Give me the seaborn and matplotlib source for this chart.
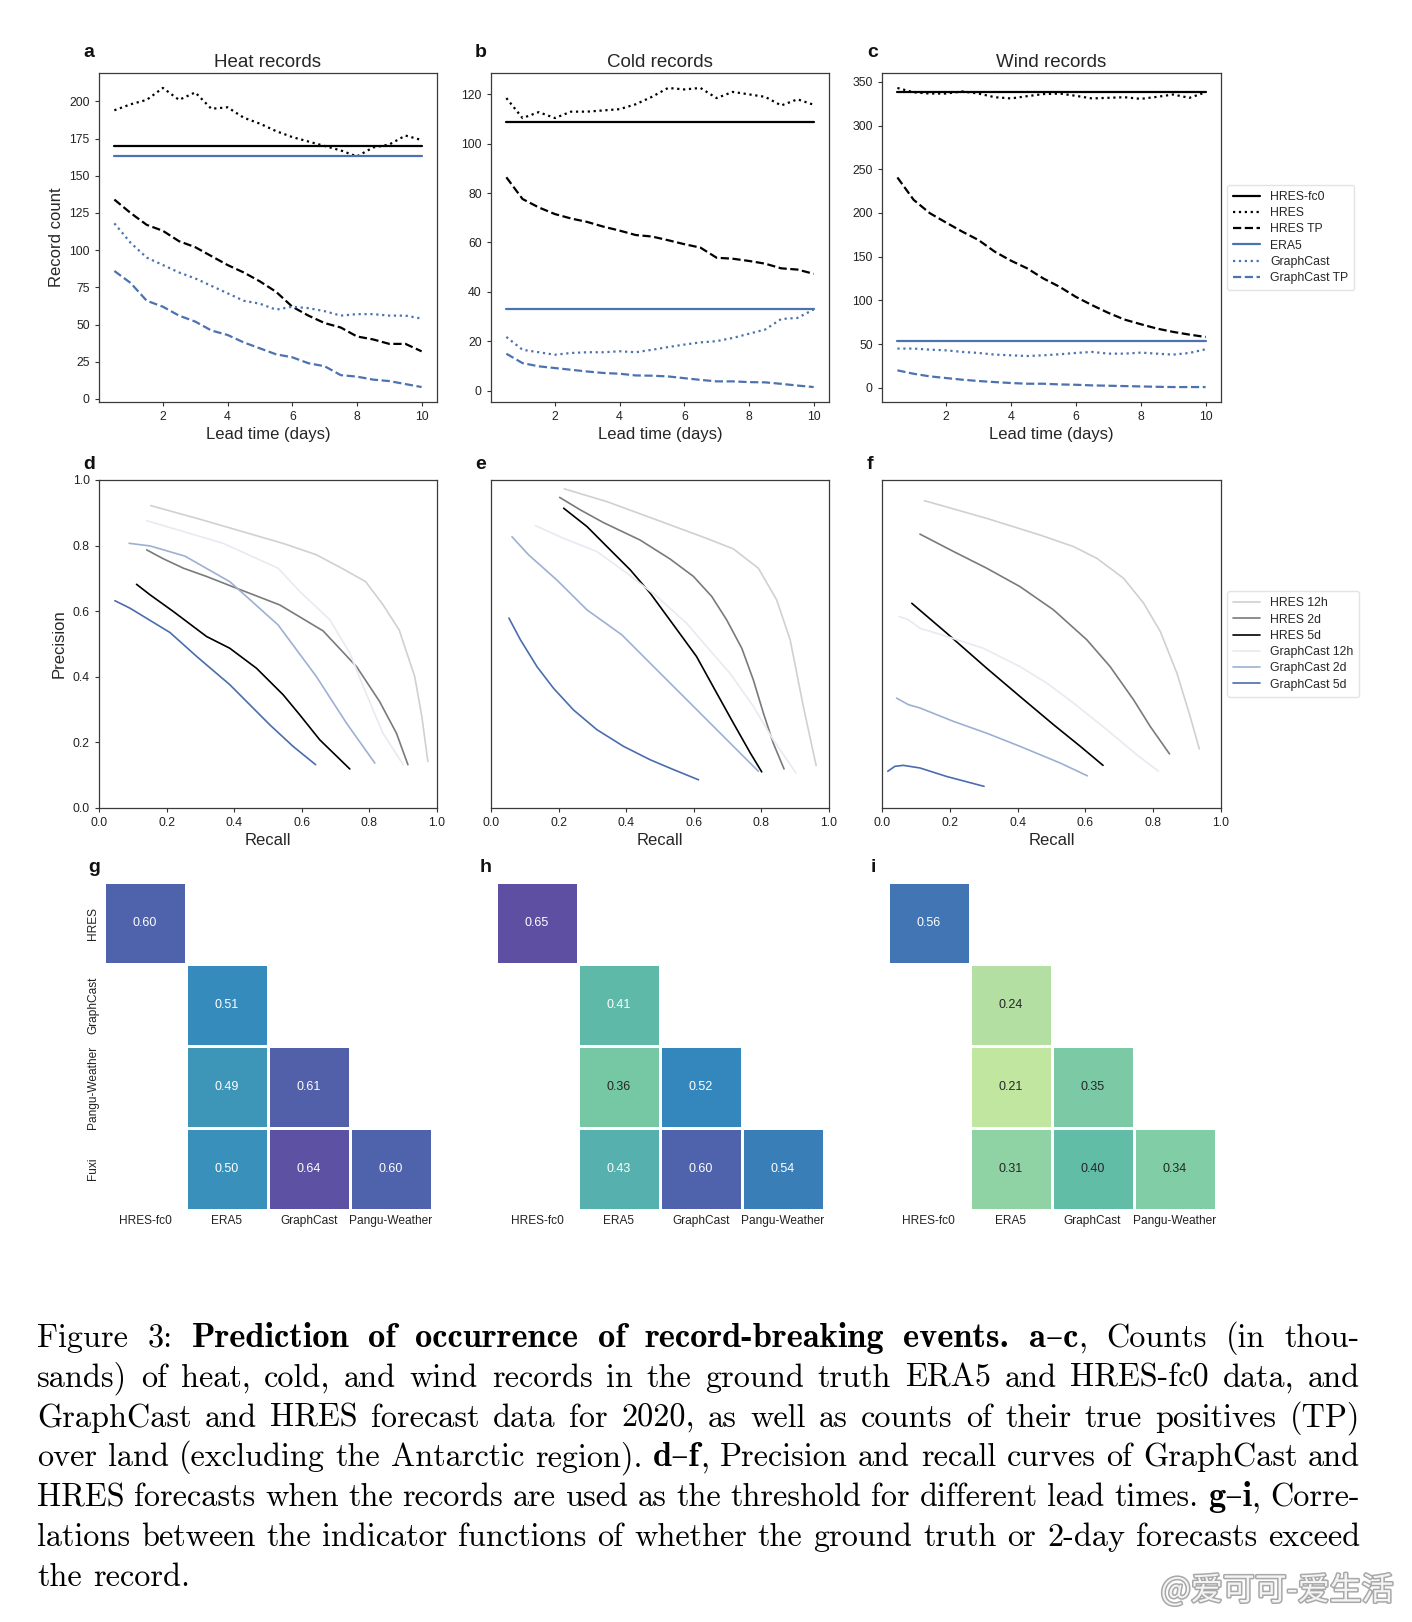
import numpy as np
import pandas as pd
import matplotlib
matplotlib.use("Agg")
import matplotlib.pyplot as plt
import seaborn as sns
from matplotlib.font_manager import FontProperties
import matplotlib.patheffects as pe

# ---------------- data ----------------
lead = [0.5, 1.0, 1.5, 2.0, 2.5, 3.0, 3.5, 4.0, 4.5, 5.0,
        5.5, 6.0, 6.5, 7.0, 7.5, 8.0, 8.5, 9.0, 9.5, 10.0]

heat_hres_fc0 = 170
heat_era5 = 163
heat_hres = [194, 198, 201, 209, 201, 206, 195, 196, 189, 185, 180, 176, 173, 170, 167, 163, 169, 171, 177, 174]
heat_hres_tp = [134, 125, 117, 113, 106, 102, 96, 90, 85, 79, 72, 62, 56, 51, 48, 42, 40, 37, 37, 32]
heat_gc = [118, 105, 95, 90, 85, 81, 76, 71, 66, 64, 60, 62, 61, 59, 56, 57, 57, 56, 56, 54]
heat_gc_tp = [86, 78, 66, 62, 56, 52, 46, 43, 38, 34, 30, 28, 24, 22, 16, 15, 13, 12, 10, 8]

cold_hres_fc0 = 109
cold_era5 = 33
cold_hres = [118.5, 110.4, 112.8, 110.4, 113, 113, 113.5, 114, 116, 119, 122.6, 122, 122.6, 118.5, 121, 120, 119, 115.5, 118, 115.8]
cold_hres_tp = [86.4, 77.6, 74.2, 71.5, 69.7, 68.3, 66.4, 64.8, 63, 62.4, 60.9, 59.3, 57.9, 53.8, 53.4, 52.5, 51.4, 49.5, 49, 47.3]
cold_gc = [21.7, 16.5, 15.5, 14.5, 15.2, 15.5, 15.5, 15.9, 15.5, 16.5, 17.6, 18.6, 19.5, 20, 21.3, 23, 24.7, 29, 29.4, 32.8]
cold_gc_tp = [14.9, 11.1, 9.8, 9.1, 8.4, 7.7, 7.1, 6.8, 6.1, 6, 5.7, 5, 4.3, 3.7, 3.7, 3.4, 3.3, 2.7, 2, 1.4]

wind_hres_fc0 = 338
wind_era5 = 53
wind_hres = [343, 338, 336.6, 336.6, 339, 336.6, 332.4, 331, 333.6, 336, 336.6, 334, 331, 331.7, 332.4, 330.5, 332.8, 335.5, 331.7, 338]
wind_hres_tp = [240.6, 215, 199.7, 189, 178.6, 169, 155.7, 145.4, 136.6, 125, 115.5, 104, 94.5, 85.7, 78, 72.7, 67.7, 63.9, 60.8, 58.1]
wind_gc = [44.8, 44.8, 43.6, 42.8, 41, 39.8, 37.9, 37.1, 36.3, 37.1, 38.3, 39.8, 41, 39, 39, 40.2, 39, 37.9, 39.8, 44]
wind_gc_tp = [19.9, 16, 13, 11.1, 9.2, 7.7, 6.5, 5.4, 4.6, 4.6, 3.8, 3.4, 2.7, 2.3, 1.9, 1.5, 1.1, 0.8, 0.8, 0.8]

count_titles = ["Heat records", "Cold records", "Wind records"]
count_labels = ["HRES-fc0", "HRES", "HRES TP", "ERA5", "GraphCast", "GraphCast TP"]

# precision-recall curves: (recall, precision) pairs
pr_heat_hres_12h = [(0.153, 0.922), (0.30, 0.88), (0.45, 0.835), (0.55, 0.805), (0.643, 0.772), (0.72, 0.73),
                    (0.789, 0.69), (0.84, 0.62), (0.888, 0.543), (0.934, 0.401), (0.955, 0.28), (0.973, 0.142)]
pr_heat_hres_2d = [(0.141, 0.787), (0.19, 0.76), (0.25, 0.731), (0.318, 0.706), (0.407, 0.67), (0.535, 0.619),
                   (0.663, 0.54), (0.762, 0.431), (0.83, 0.325), (0.88, 0.228), (0.914, 0.132)]
pr_heat_hres_5d = [(0.111, 0.682), (0.151, 0.65), (0.22, 0.599), (0.318, 0.523), (0.387, 0.487), (0.466, 0.426),
                   (0.545, 0.345), (0.594, 0.284), (0.653, 0.208), (0.742, 0.119)]
pr_heat_gc_12h = [(0.141, 0.876), (0.367, 0.807), (0.53, 0.731), (0.594, 0.66), (0.683, 0.574), (0.742, 0.472),
                  (0.79, 0.35), (0.84, 0.228), (0.90, 0.132)]
pr_heat_gc_2d = [(0.089, 0.807), (0.151, 0.799), (0.254, 0.768), (0.387, 0.69), (0.436, 0.645), (0.53, 0.558),
                 (0.643, 0.401), (0.732, 0.259), (0.816, 0.137)]
pr_heat_gc_5d = [(0.047, 0.632), (0.092, 0.609), (0.21, 0.535), (0.289, 0.462), (0.387, 0.376), (0.505, 0.254),
                 (0.574, 0.188), (0.641, 0.132)]

pr_cold_hres_12h = [(0.217, 0.973), (0.343, 0.934), (0.491, 0.878), (0.638, 0.822), (0.717, 0.79), (0.791, 0.731),
                    (0.845, 0.635), (0.885, 0.513), (0.924, 0.31), (0.962, 0.129)]
pr_cold_hres_2d = [(0.203, 0.947), (0.264, 0.909), (0.333, 0.87), (0.441, 0.817), (0.53, 0.759), (0.599, 0.706),
                   (0.653, 0.645), (0.697, 0.574), (0.742, 0.487), (0.776, 0.391), (0.806, 0.289), (0.835, 0.198),
                   (0.867, 0.119)]
pr_cold_hres_5d = [(0.215, 0.914), (0.284, 0.858), (0.343, 0.797), (0.412, 0.726), (0.471, 0.655), (0.54, 0.558),
                   (0.608, 0.462), (0.668, 0.35), (0.717, 0.259), (0.767, 0.168), (0.801, 0.11)]
pr_cold_gc_12h = [(0.131, 0.861), (0.215, 0.822), (0.313, 0.782), (0.402, 0.716), (0.491, 0.645), (0.579, 0.563),
                  (0.638, 0.492), (0.707, 0.411), (0.776, 0.31), (0.835, 0.208), (0.902, 0.107)]
pr_cold_gc_2d = [(0.062, 0.827), (0.111, 0.772), (0.195, 0.695), (0.284, 0.604), (0.387, 0.528), (0.481, 0.431),
                 (0.589, 0.32), (0.688, 0.218), (0.791, 0.112)]
pr_cold_gc_5d = [(0.053, 0.579), (0.087, 0.513), (0.136, 0.431), (0.185, 0.365), (0.244, 0.299), (0.313, 0.239),
                 (0.392, 0.188), (0.471, 0.147), (0.54, 0.117), (0.614, 0.086)]

pr_wind_hres_12h = [(0.125, 0.937), (0.309, 0.883), (0.467, 0.832), (0.565, 0.797), (0.634, 0.761), (0.713, 0.70),
                    (0.772, 0.624), (0.821, 0.538), (0.87, 0.411), (0.909, 0.279), (0.936, 0.18)]
pr_wind_hres_2d = [(0.112, 0.835), (0.211, 0.782), (0.309, 0.731), (0.407, 0.675), (0.506, 0.604), (0.604, 0.513),
                   (0.673, 0.431), (0.742, 0.33), (0.791, 0.249), (0.848, 0.165)]
pr_wind_hres_5d = [(0.088, 0.624), (0.191, 0.533), (0.309, 0.426), (0.407, 0.34), (0.506, 0.254), (0.585, 0.188),
                   (0.652, 0.13)]
pr_wind_gc_12h = [(0.05, 0.584), (0.078, 0.574), (0.112, 0.548), (0.191, 0.523), (0.299, 0.487), (0.407, 0.431),
                  (0.486, 0.381), (0.565, 0.32), (0.663, 0.239), (0.752, 0.162), (0.816, 0.112)]
pr_wind_gc_2d = [(0.043, 0.335), (0.078, 0.315), (0.112, 0.305), (0.211, 0.264), (0.309, 0.228), (0.407, 0.188),
                 (0.526, 0.137), (0.606, 0.098)]
pr_wind_gc_5d = [(0.017, 0.112), (0.038, 0.127), (0.063, 0.13), (0.112, 0.122), (0.191, 0.096), (0.301, 0.066)]

pr_labels = ["HRES 12h", "HRES 2d", "HRES 5d", "GraphCast 12h", "GraphCast 2d", "GraphCast 5d"]

# correlation matrices (NaN = empty cell)
corr_cols = ["HRES-fc0", "ERA5", "GraphCast", "Pangu-Weather"]
corr_rows = ["HRES", "GraphCast", "Pangu-Weather", "Fuxi"]
corr_heat = [[0.60, np.nan, np.nan, np.nan],
             [np.nan, 0.51, np.nan, np.nan],
             [np.nan, 0.49, 0.61, np.nan],
             [np.nan, 0.50, 0.64, 0.60]]
corr_cold = [[0.65, np.nan, np.nan, np.nan],
             [np.nan, 0.41, np.nan, np.nan],
             [np.nan, 0.36, 0.52, np.nan],
             [np.nan, 0.43, 0.60, 0.54]]
corr_wind = [[0.56, np.nan, np.nan, np.nan],
             [np.nan, 0.24, np.nan, np.nan],
             [np.nan, 0.21, 0.35, np.nan],
             [np.nan, 0.31, 0.40, 0.34]]

caption_lines = [
    "Figure 3: **Prediction of occurrence of record-breaking events.** **a\u2013c**, Counts (in thou-",
    "sands) of heat, cold, and wind records in the ground truth ERA5 and HRES-fc0 data, and",
    "GraphCast and HRES forecast data for 2020, as well as counts of their true positives (TP)",
    "over land (excluding the Antarctic region). **d\u2013f**, Precision and recall curves of GraphCast and",
    "HRES forecasts when the records are used as the threshold for different lead times. **g\u2013i**, Corre-",
    "lations between the indicator functions of whether the ground truth or 2-day forecasts exceed",
    "the record.",
]
watermark = "@爱可可-爱生活"

# ---------------- style ----------------
sns.set_style("ticks")
plt.rcParams["font.family"] = ["Liberation Sans", "DejaVu Sans"]
plt.rcParams["axes.edgecolor"] = "#3a3a3a"
plt.rcParams["axes.linewidth"] = 0.9
plt.rcParams["xtick.major.size"] = 3.2
plt.rcParams["ytick.major.size"] = 3.2
plt.rcParams["xtick.color"] = "#333333"
plt.rcParams["ytick.color"] = "#333333"
plt.rcParams["xtick.labelcolor"] = "#222222"
plt.rcParams["ytick.labelcolor"] = "#222222"

BLUE = "#4c72b0"
W, H = 1412, 1622
fig = plt.figure(figsize=(W / 100, H / 100), dpi=100)


def rect(left_px, top_px, right_px, bottom_px):
    return [left_px / W, 1 - bottom_px / H, (right_px - left_px) / W, (bottom_px - top_px) / H]


col_lr = [(99, 437), (491, 829), (882, 1221)]
row_tb = [(73, 402), (480, 808), (882, 1210)]

TICK_FS = 8.8
LAB_FS = 12
TITLE_FS = 13.5

# ---------- row 1: record counts ----------
count_sets = [
    (heat_hres_fc0, heat_hres, heat_hres_tp, heat_era5, heat_gc, heat_gc_tp, [0, 25, 50, 75, 100, 125, 150, 175, 200]),
    (cold_hres_fc0, cold_hres, cold_hres_tp, cold_era5, cold_gc, cold_gc_tp, [0, 20, 40, 60, 80, 100, 120]),
    (wind_hres_fc0, wind_hres, wind_hres_tp, wind_era5, wind_gc, wind_gc_tp, [0, 50, 100, 150, 200, 250, 300, 350]),
]
styles = [("black", "-"), ("black", ":"), ("black", "--"), (BLUE, "-"), (BLUE, ":"), (BLUE, "--")]

for i, (fc0, hres, hres_tp, era5, gc, gc_tp, yt) in enumerate(count_sets):
    l, r = col_lr[i]
    t, b = row_tb[0]
    ax = fig.add_axes(rect(l, t, r, b))
    series = [[fc0] * len(lead), hres, hres_tp, [era5] * len(lead), gc, gc_tp]
    for vals, (c, ls), lab in zip(series, styles, count_labels):
        sns.lineplot(x=lead, y=vals, ax=ax, color=c, linestyle=ls, linewidth=1.6, label=lab)
    ax.set_xticks([2, 4, 6, 8, 10])
    ax.set_yticks(yt)
    ax.tick_params(labelsize=TICK_FS)
    ax.set_xlabel("Lead time (days)", fontsize=LAB_FS, labelpad=3)
    if i == 0:
        ax.set_ylabel("Record count", fontsize=LAB_FS)
    ax.set_title(count_titles[i], fontsize=TITLE_FS, pad=4)
    if i == 2:
        leg = ax.legend(loc="center left", bbox_to_anchor=(1.0, 0.5), fontsize=8.8, frameon=True,
                        labelspacing=0.35, handlelength=2.2, borderpad=0.5)
        leg.get_frame().set_edgecolor("#dddddd")
    else:
        ax.get_legend().remove()

# ---------- row 2: precision / recall ----------
pr_sets = [
    [pr_heat_hres_12h, pr_heat_hres_2d, pr_heat_hres_5d, pr_heat_gc_12h, pr_heat_gc_2d, pr_heat_gc_5d],
    [pr_cold_hres_12h, pr_cold_hres_2d, pr_cold_hres_5d, pr_cold_gc_12h, pr_cold_gc_2d, pr_cold_gc_5d],
    [pr_wind_hres_12h, pr_wind_hres_2d, pr_wind_hres_5d, pr_wind_gc_12h, pr_wind_gc_2d, pr_wind_gc_5d],
]
pr_colors = ["#d0d0d0", "#7a7a7a", "#000000", "#e7eaf1", "#9db0d3", "#4a6dae"]

for i, curves in enumerate(pr_sets):
    l, r = col_lr[i]
    t, b = row_tb[1]
    ax = fig.add_axes(rect(l, t, r, b))
    for pts, c, lab in zip(curves, pr_colors, pr_labels):
        rec = [p[0] for p in pts]
        prec = [p[1] for p in pts]
        sns.lineplot(x=rec, y=prec, ax=ax, color=c, linewidth=1.2, sort=False, estimator=None, label=lab)
    ax.set_xlim(0, 1)
    ax.set_ylim(0, 1)
    ax.set_xticks(np.linspace(0, 1, 6))
    ax.set_xticklabels([f"{v:.1f}" for v in np.linspace(0, 1, 6)])
    ax.tick_params(labelsize=TICK_FS)
    ax.set_xlabel("Recall", fontsize=LAB_FS, labelpad=3)
    if i == 0:
        ax.set_yticks(np.linspace(0, 1, 6))
        ax.set_yticklabels([f"{v:.1f}" for v in np.linspace(0, 1, 6)])
        ax.set_ylabel("Precision", fontsize=LAB_FS)
    else:
        ax.set_yticks([])
        ax.set_ylabel("")
    if i == 2:
        leg = ax.legend(loc="center left", bbox_to_anchor=(1.0, 0.5), fontsize=8.8, frameon=True,
                        labelspacing=0.35, handlelength=2.2, borderpad=0.5)
        leg.get_frame().set_edgecolor("#dddddd")
    else:
        ax.get_legend().remove()

# ---------- row 3: correlation heatmaps ----------
for i, mat in enumerate([corr_heat, corr_cold, corr_wind]):
    l, r = col_lr[i]
    t, b = row_tb[2]
    ax = fig.add_axes(rect(l, t, r, b))
    df = pd.DataFrame(mat, index=corr_rows, columns=corr_cols)
    sns.heatmap(df, ax=ax, cmap="Spectral", vmin=-0.65, vmax=0.65, annot=True, fmt=".2f",
                annot_kws={"size": 9}, cbar=False, linewidths=1, linecolor="white", square=True,
                xticklabels=True, yticklabels=(i == 0))
    ax.tick_params(length=0, labelsize=8.6)
    ax.set_xticklabels(corr_cols, rotation=0, fontsize=8.6)
    if i == 0:
        ax.set_yticklabels(corr_rows, rotation=90, va="center", fontsize=8.6)
    ax.set_xlabel("")
    ax.set_ylabel("")
    for s in ax.spines.values():
        s.set_visible(False)

# ---------- panel letters ----------
letters = [("a", 83, 57), ("b", 475, 57), ("c", 867, 57),
           ("d", 83, 469), ("e", 475, 469), ("f", 867, 469),
           ("g", 88, 872), ("h", 480, 872), ("i", 871, 872)]
for s, x, y in letters:
    fig.text(x / W, 1 - y / H, s, fontsize=14, fontweight="bold", ha="left", va="baseline", color="#111111")

# ---------- caption (justified) ----------
renderer = fig.canvas.get_renderer()
BOLD_SCALE = 1.07


def parse(line):
    words, cur = [], []
    for k, part in enumerate(line.split("**")):
        bold = (k % 2 == 1)
        pieces = part.split(" ")
        for j, p in enumerate(pieces):
            if j > 0 and cur:
                words.append(cur)
                cur = []
            if p:
                cur.append((p, bold))
    if cur:
        words.append(cur)
    return words


def fprop(bold, size):
    if bold:
        return FontProperties(family=["cmb10", "DejaVu Serif"], size=size * BOLD_SCALE)
    return FontProperties(family=["cmr10", "DejaVu Serif"], size=size)


def seg_w(txt, bold, size):
    w, h, d = renderer.get_text_width_height_descent(txt, fprop(bold, size), ismath=False)
    return w


x0, x1 = 37, 1360
cap_w = x1 - x0
parsed = [parse(ln) for ln in caption_lines]
# choose a font size so that the average inter-word gap is about 0.38 em
ref = 20.0
fits = []
for words in parsed[:-1]:
    a = sum(seg_w(t, bo, ref) for wd in words for t, bo in wd) / (ref * 100 / 72)
    fits.append(cap_w / (a + 0.38 * (len(words) - 1)))
fs_px = float(np.median(fits))
fs = fs_px * 72 / 100
base0, lstep = 1347, 39.8
for li, words in enumerate(parsed):
    widths = [[seg_w(t, bo, fs) for t, bo in wd] for wd in words]
    tot = sum(sum(w) for w in widths)
    if li < len(parsed) - 1:
        gap = (cap_w - tot) / (len(words) - 1)
    else:
        gap = 0.36 * fs_px
    x = x0
    y = base0 + li * lstep
    for wd, ws in zip(words, widths):
        for (t, bo), w in zip(wd, ws):
            fig.text(x / W, 1 - y / H, t, fontproperties=fprop(bo, fs), ha="left", va="baseline", color="black")
            x += w
        x += gap

# ---------- watermark ----------
fig.text(1394 / W, 1 - 1600 / H, watermark, family=["Noto Sans CJK SC", "DejaVu Sans"], fontsize=23,
         ha="right", va="baseline", color="#f4f4f4",
         path_effects=[pe.withStroke(linewidth=2.2, foreground="#a8a8a8")])

fig.savefig("out.png", dpi=100)
